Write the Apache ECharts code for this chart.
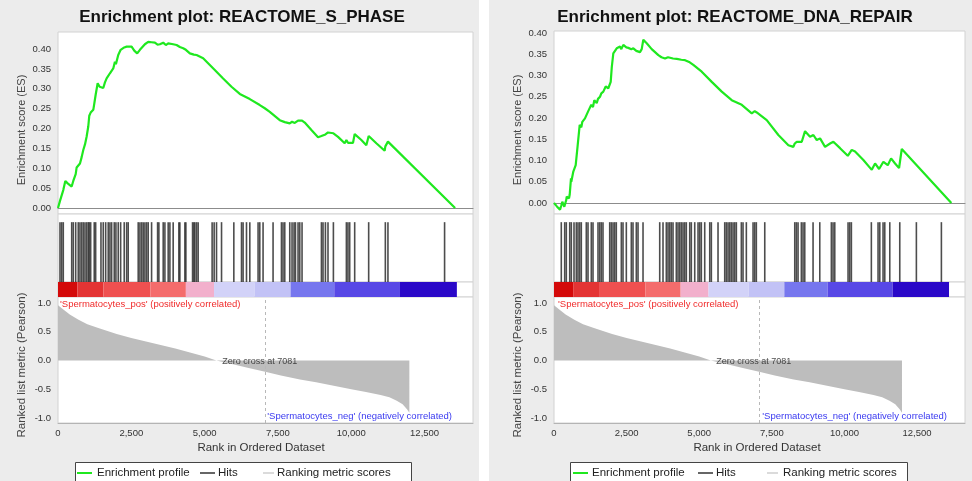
<!DOCTYPE html>
<html>
<head>
<meta charset="utf-8">
<script src="https://cdn.jsdelivr.net/npm/echarts@6/dist/echarts.min.js"></script>
<style>
  html, body { margin: 0; padding: 0; background: #fff; }
  #chart {
    width: 972px; height: 481px;
    background: linear-gradient(to right, #ececec 0, #ececec 479px, #fff 479px, #fff 489px, #ececec 489px);
  }
</style>
</head>
<body>
<div id="chart"></div>
<script>
// ---- shared axis settings ----
const FONT = '"Liberation Sans", Arial, Helvetica, sans-serif';
const rankMax = 14150;
const zeroCross = 7081;
const rankTicks = [0, 2500, 5000, 7500, 10000, 12500];
const esTicks = [0, 0.05, 0.10, 0.15, 0.20, 0.25, 0.30, 0.35, 0.40];
const metricTicks = [-1, -0.5, 0, 0.5, 1];

// ---- ranked list metric (Pearson), shared by both gene sets ----
const metricRank  = [0, 150, 400, 700, 1000, 1400, 2000, 2500, 3000, 3500, 4000, 4500, 5000, 5400,
                     6000, 6500, 7100, 7600, 8250, 8800, 9400, 10000, 10500, 11000, 11300, 11550, 11750, 11900, 11980];
const metricValue = [0.96, 0.90, 0.80, 0.71, 0.63, 0.56, 0.46, 0.39, 0.33, 0.27, 0.21, 0.14, 0.07, 0.00,
                     -0.07, -0.13, -0.20, -0.26, -0.33, -0.38, -0.44, -0.50, -0.55, -0.60, -0.64, -0.70, -0.76, -0.85, -0.91];

// ---- heat band under the hits (rank ranges and colours) ----
const bandEdges  = [0, 660, 1550, 3150, 4360, 5320, 6700, 7930, 9420, 11660, 13600];
const bandColors = ['#d40a0a', '#e43434', '#ef5050', '#f46c6c', '#f2b0cc', '#d2d2f8', '#c2c2f6', '#7676ee', '#5848e6', '#2a08c8'];

// ---- REACTOME_S_PHASE ----
const sPhaseRank = [0, 68, 180, 250, 330, 466, 521, 603, 636, 691, 749, 807, 862, 920, 977, 1032, 1066, 1114, 1203,
  1236, 1284, 1352, 1420, 1488, 1543, 1601, 1658, 1713, 1771, 1829, 1884, 1941, 1975, 2054, 2136, 2169, 2258, 2340,
  2394, 2510, 2600, 2700, 2793, 2851, 2963, 3076, 3191, 3304, 3396, 3474, 3587, 3678, 3757, 3815, 3927, 4043, 4155,
  4268, 4360, 4496, 4632, 4724, 4779, 4949, 5177, 5405, 5630, 5916, 6199, 6540, 6880, 7050, 7221, 7561, 7732, 7902,
  7980, 8072, 8185, 8242, 8321, 8413, 8640, 8866, 8982, 9036, 9118, 9206, 9264, 9390, 9548, 9775, 9833, 9887, 9946,
  10059, 10116, 10343, 10513, 10593, 10854, 11138, 11161, 11250, 11284, 13540];
const sPhaseES = [0.000, 0.018, 0.045, 0.068, 0.062, 0.054, 0.068, 0.085, 0.102, 0.098, 0.112, 0.128, 0.146, 0.160,
  0.180, 0.205, 0.232, 0.240, 0.247, 0.262, 0.285, 0.314, 0.305, 0.309, 0.302, 0.316, 0.326, 0.322, 0.339, 0.335,
  0.351, 0.368, 0.362, 0.385, 0.398, 0.402, 0.404, 0.406, 0.401, 0.406, 0.396, 0.389, 0.398, 0.402, 0.412, 0.418,
  0.417, 0.416, 0.411, 0.412, 0.416, 0.410, 0.414, 0.416, 0.412, 0.410, 0.405, 0.402, 0.398, 0.389, 0.386, 0.385,
  0.383, 0.377, 0.360, 0.343, 0.326, 0.305, 0.287, 0.274, 0.259, 0.251, 0.242, 0.221, 0.216, 0.213, 0.217, 0.214,
  0.220, 0.218, 0.220, 0.215, 0.196, 0.178, 0.181, 0.178, 0.185, 0.190, 0.186, 0.188, 0.179, 0.163, 0.171, 0.164,
  0.169, 0.164, 0.186, 0.171, 0.158, 0.181, 0.163, 0.144, 0.155, 0.167, 0.165, 0.000];
const sPhaseHits = [68, 126, 180, 467, 521, 603, 691, 749, 807, 862, 920, 978, 1032, 1066, 1114, 1236, 1284, 1465,
  1543, 1625, 1713, 1771, 1829, 1918, 1975, 2054, 2136, 2258, 2340, 2394, 2735, 2793, 2851, 2905, 2963, 3021, 3076,
  3191, 3396, 3440, 3587, 3645, 3757, 3815, 3927, 4121, 4155, 4326, 4360, 4588, 4632, 4666, 4724, 4779, 5255, 5324,
  5405, 5576, 5995, 6257, 6311, 6427, 6540, 6822, 6880, 6992, 7333, 7619, 7673, 7732, 7902, 7980, 8048, 8096, 8185,
  8243, 8321, 8982, 9036, 9118, 9206, 9390, 9833, 9887, 9946, 10116, 10593, 11161, 11250, 13181];

// ---- REACTOME_DNA_REPAIR ----
const dnaRepairRank = [0, 100, 207, 251, 286, 355, 424, 437, 517, 541, 585, 596, 665, 689, 747, 768, 816, 885, 940,
  975, 1067, 1112, 1171, 1284, 1343, 1388, 1470, 1515, 1584, 1629, 1698, 1780, 1870, 1952, 1990, 2042, 2090, 2159,
  2273, 2318, 2386, 2490, 2559, 2662, 2731, 2834, 2882, 2960, 3020, 3075, 3192, 3364, 3592, 3700, 3822, 3926, 3994,
  4098, 4225, 4384, 4511, 4673, 4797, 5086, 5431, 5775, 6119, 6464, 6808, 6911, 6980, 7324, 7724, 8069, 8241, 8289,
  8358, 8530, 8643, 8815, 8930, 9047, 9160, 9332, 9504, 9618, 9848, 10114, 10251, 10365, 10651, 10940, 11054, 11192,
  11340, 11491, 11605, 11743, 11880, 11973, 13680];
const dnaRepairES = [0.000, -0.008, -0.016, -0.006, 0.003, -0.009, 0.008, 0.015, 0.011, 0.020, 0.058, 0.050, 0.074,
  0.070, 0.089, 0.085, 0.136, 0.184, 0.178, 0.191, 0.199, 0.196, 0.215, 0.231, 0.226, 0.242, 0.235, 0.245, 0.250,
  0.258, 0.262, 0.274, 0.270, 0.285, 0.320, 0.352, 0.348, 0.364, 0.368, 0.362, 0.372, 0.366, 0.365, 0.362, 0.364,
  0.358, 0.358, 0.355, 0.362, 0.384, 0.376, 0.362, 0.348, 0.343, 0.340, 0.343, 0.344, 0.340, 0.339, 0.337, 0.336,
  0.331, 0.325, 0.309, 0.285, 0.262, 0.242, 0.231, 0.211, 0.216, 0.213, 0.195, 0.160, 0.136, 0.132, 0.140, 0.144,
  0.144, 0.169, 0.156, 0.160, 0.148, 0.152, 0.132, 0.140, 0.144, 0.129, 0.111, 0.125, 0.121, 0.101, 0.078, 0.093,
  0.080, 0.097, 0.089, 0.105, 0.093, 0.082, 0.127, 0.000];
const dnaRepairHits = [251, 368, 424, 541, 596, 689, 768, 826, 885, 940, 1112, 1171, 1284, 1343, 1515, 1574, 1629,
  1687, 1918, 1973, 2032, 2090, 2145, 2318, 2376, 2490, 2662, 2720, 2834, 2893, 3065, 3640, 3753, 3867, 3926, 3984,
  4039, 4098, 4211, 4270, 4328, 4384, 4442, 4501, 4556, 4673, 4728, 4845, 4959, 5017, 5072, 5189, 5362, 5417, 5647,
  5878, 5933, 5992, 6050, 6105, 6164, 6223, 6278, 6450, 6508, 6622, 6853, 6911, 6966, 7256, 8289, 8344, 8402, 8516,
  8574, 8633, 8919, 9150, 9549, 9607, 9666, 10124, 10182, 10238, 10926, 11157, 11216, 11329, 11388, 11560, 11904,
  12476, 13337];

// ---- panel layout ----
const panels = [
  { title: 'Enrichment plot: REACTOME_S_PHASE', rank: sPhaseRank, es: sPhaseES, hits: sPhaseHits,
    left: 58, width: 415, esTop: 32, esMin: -0.0151, esMax: 0.4428, titleX: 242, nameX: 22,
    legend: { x: 75, w: 336, green: [77, 92], t1: 97, hit: [200, 215], t2: 218, gray: [263, 274], t3: 277 },
    posX: 60, negX: 452 },
  { title: 'Enrichment plot: REACTOME_DNA_REPAIR', rank: dnaRepairRank, es: dnaRepairES, hits: dnaRepairHits,
    left: 554, width: 411, esTop: 31, esMin: -0.0259, esMax: 0.4047, titleX: 735, nameX: 518,
    legend: { x: 570, w: 337, green: [573, 588], t1: 592, hit: [698, 713], t2: 716, gray: [767, 778], t3: 783 },
    posX: 558, negX: 947 }
];

const grids = [], xAxes = [], yAxes = [], series = [], graphics = [];
const gridStyle = { show: true, backgroundColor: '#fff', borderColor: '#d2d2d2', borderWidth: 1 };
const tickFont = { fontFamily: FONT, fontSize: 9.5, color: '#333' };
const hidden = { show: false };

panels.forEach((p, k) => {
  const g = grids.length;
  const esBottom = 214;
  grids.push(Object.assign({ left: p.left, width: p.width, top: p.esTop, height: esBottom - p.esTop }, gridStyle));
  grids.push(Object.assign({ left: p.left, width: p.width, top: 214, height: 68 }, gridStyle));
  grids.push(Object.assign({ left: p.left, width: p.width, top: 282, height: 15 }, gridStyle));
  grids.push(Object.assign({ left: p.left, width: p.width, top: 297, height: 126 }, gridStyle));

  // ES panel axes
  xAxes.push({ type: 'value', gridIndex: g, min: 0, max: rankMax,
    axisLine: { show: true, onZero: true, lineStyle: { color: '#8c8c8c', width: 1 } },
    axisTick: hidden, axisLabel: hidden, splitLine: hidden });
  yAxes.push({ type: 'value', gridIndex: g, min: p.esMin, max: p.esMax,
    axisLine: hidden, axisTick: hidden, splitLine: hidden,
    axisLabel: Object.assign({ customValues: esTicks, margin: 7, formatter: v => v.toFixed(2) }, tickFont) });
  // hits and heat band axes
  for (let j = 1; j <= 2; j++) {
    xAxes.push({ type: 'value', gridIndex: g + j, min: 0, max: rankMax, show: false });
    yAxes.push({ type: 'value', gridIndex: g + j, min: 0, max: 1, show: false });
  }
  // ranked metric axes
  xAxes.push({ type: 'value', gridIndex: g + 3, min: 0, max: rankMax, position: 'bottom',
    axisLine: { show: true, onZero: false, lineStyle: { color: '#b4b4b4' } },
    axisTick: hidden, splitLine: hidden,
    axisLabel: Object.assign({ customValues: rankTicks, margin: 5, formatter: v => v.toLocaleString('en-US') }, tickFont) });
  yAxes.push({ type: 'value', gridIndex: g + 3, min: -1.087, max: 1.104,
    axisLine: hidden, axisTick: hidden, splitLine: hidden,
    axisLabel: Object.assign({ customValues: metricTicks, margin: 7, formatter: v => v.toFixed(1) }, tickFont) });

  // enrichment profile
  series.push({ type: 'line', xAxisIndex: g, yAxisIndex: g, showSymbol: false, animation: false,
    data: p.rank.map((r, i) => [r, p.es[i]]),
    lineStyle: { color: '#1fe81f', width: 2.2 }, z: 5 });

  // hits
  series.push({ type: 'custom', xAxisIndex: g + 1, yAxisIndex: g + 1, animation: false,
    dimensions: ['rank'], encode: { x: 0 },
    data: p.hits.map(h => [h]),
    renderItem: (params, api) => {
      const a = api.coord([api.value(0), 0]);
      const b = api.coord([api.value(0), 0.88]);
      return { type: 'line', shape: { x1: a[0], y1: a[1], x2: b[0], y2: b[1] },
        style: { stroke: '#2e2e2e', lineWidth: 1.6, opacity: 0.85 } };
    } });

  // heat band
  series.push({ type: 'custom', xAxisIndex: g + 2, yAxisIndex: g + 2, animation: false,
    dimensions: ['from', 'to', 'idx'], encode: { x: [0, 1] },
    data: bandColors.map((c, i) => [bandEdges[i], bandEdges[i + 1], i]),
    renderItem: (params, api) => {
      const a = api.coord([api.value(0), 1]);
      const b = api.coord([api.value(1), 0]);
      return { type: 'rect', shape: { x: a[0], y: a[1], width: b[0] - a[0], height: b[1] - a[1] },
        style: { fill: bandColors[api.value(2)] } };
    } });

  // ranked list metric
  series.push({ type: 'line', xAxisIndex: g + 3, yAxisIndex: g + 3, showSymbol: false, animation: false,
    data: metricRank.map((r, i) => [r, metricValue[i]]),
    lineStyle: { width: 0 }, areaStyle: { color: '#bdbdbd', opacity: 1, origin: 0 },
    markLine: { silent: true, symbol: 'none', label: { show: false },
      lineStyle: { color: '#b8b8b8', type: [3, 3], width: 1 },
      data: [{ xAxis: zeroCross }] } });

  // zero-cross note
  series.push({ type: 'scatter', xAxisIndex: g + 3, yAxisIndex: g + 3, symbolSize: 0, animation: false,
    data: [[zeroCross, 0]], z: 6,
    label: { show: true, position: 'inside', offset: [-6, 1], formatter: 'Zero cross at ' + zeroCross,
      fontFamily: FONT, fontSize: 9, color: '#222' } });

  // title
  graphics.push({ type: 'text', x: p.titleX, y: 17,
    style: { text: p.title, fontFamily: FONT, fontWeight: 'bold', fontSize: 17, fill: '#111',
      align: 'center', verticalAlign: 'middle' } });
  // axis names
  graphics.push({ type: 'text', x: p.nameX, y: 130, rotation: Math.PI / 2,
    style: { text: 'Enrichment score (ES)', fontFamily: FONT, fontSize: 11, fill: '#444',
      align: 'center', verticalAlign: 'middle' } });
  graphics.push({ type: 'text', x: p.nameX, y: 365, rotation: Math.PI / 2,
    style: { text: 'Ranked list metric (Pearson)', fontFamily: FONT, fontSize: 11.5, fill: '#444',
      align: 'center', verticalAlign: 'middle' } });
  graphics.push({ type: 'text', x: p.left + 203, y: 448,
    style: { text: 'Rank in Ordered Dataset', fontFamily: FONT, fontSize: 11.5, fill: '#333',
      align: 'center', verticalAlign: 'middle' } });
  // correlation direction notes
  graphics.push({ type: 'text', x: p.posX, y: 304, z: 10,
    style: { text: "'Spermatocytes_pos' (positively correlated)", fontFamily: FONT, fontSize: 9.5,
      fill: '#f02a2a', align: 'left', verticalAlign: 'middle' } });
  graphics.push({ type: 'text', x: p.negX, y: 416, z: 10,
    style: { text: "'Spermatocytes_neg' (negatively correlated)", fontFamily: FONT, fontSize: 9.5,
      fill: '#3a3af0', align: 'right', verticalAlign: 'middle' } });

  // legend
  const L = p.legend, ly = 473;
  graphics.push({ type: 'rect', shape: { x: L.x + 0.5, y: 462.5, width: L.w, height: 30 },
    style: { fill: '#fff', stroke: '#444', lineWidth: 1 } });
  graphics.push({ type: 'line', shape: { x1: L.green[0], y1: ly, x2: L.green[1], y2: ly },
    style: { stroke: '#1fe81f', lineWidth: 2 } });
  graphics.push({ type: 'line', shape: { x1: L.hit[0], y1: ly, x2: L.hit[1], y2: ly },
    style: { stroke: '#333', lineWidth: 1.5 } });
  graphics.push({ type: 'line', shape: { x1: L.gray[0], y1: ly, x2: L.gray[1], y2: ly },
    style: { stroke: '#cfcfcf', lineWidth: 1.5 } });
  [['Enrichment profile', L.t1], ['Hits', L.t2], ['Ranking metric scores', L.t3]].forEach(([t, x]) => {
    graphics.push({ type: 'text', x: x, y: ly,
      style: { text: t, fontFamily: FONT, fontSize: 11.5, fill: '#222', align: 'left', verticalAlign: 'middle' } });
  });
});

const chart = echarts.init(document.getElementById('chart'), null, { renderer: 'canvas' });
chart.setOption({
  backgroundColor: 'transparent',
  animation: false,
  textStyle: { fontFamily: FONT },
  grid: grids,
  xAxis: xAxes,
  yAxis: yAxes,
  series: series,
  graphic: graphics
});
</script>
</body>
</html>
